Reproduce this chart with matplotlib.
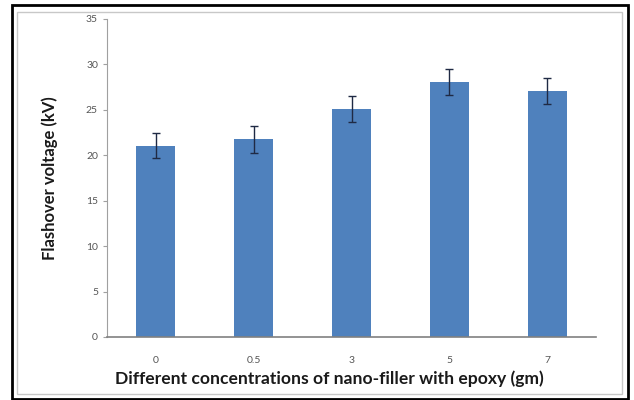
import numpy as np
import matplotlib.pyplot as plt
from matplotlib.patches import Rectangle

conc = ['0', '0.5', '3', '5', '7']
voltage = [21.05, 21.75, 25.1, 28.1, 27.05]
err = [1.4, 1.45, 1.4, 1.45, 1.45]

plt.rcParams['font.family'] = ['Lato', 'DejaVu Sans']

fig = plt.figure(figsize=(6.34, 4.0), dpi=100)
W, H = 634.0, 400.0

# outer black frame and inner grey chart-area frame
fig.patches.append(Rectangle((12 / W, 1 - 399 / H), 616 / W, 394 / H, transform=fig.transFigure,
                             fill=False, edgecolor='black', linewidth=2.0))
fig.patches.append(Rectangle((17 / W, 1 - 394 / H), 605 / W, 382 / H, transform=fig.transFigure,
                             fill=False, edgecolor='#c8c8c8', linewidth=1.0))

ax = fig.add_axes([107 / W, 1 - 337 / H, 489 / W, 318 / H])
x = np.arange(len(conc))
ax.bar(x, voltage, width=0.4, color='#4f81bd', zorder=2)
ax.errorbar(x, voltage, yerr=err, fmt='none', ecolor='#1f2a44', elinewidth=1.0, capsize=3, capthick=1.0, zorder=3)

ax.set_xlim(-0.5, len(conc) - 0.5)
ax.set_ylim(0, 35)
ax.set_yticks(np.arange(0, 36, 5))
ax.set_xticks(x)
ax.set_xticklabels(conc)

for s in ['top', 'right']:
    ax.spines[s].set_visible(False)
ax.spines['left'].set_color('#a0a0a0')
ax.spines['bottom'].set_color('#808080')
ax.spines['bottom'].set_linewidth(1.2)
ax.tick_params(axis='y', colors='#a0a0a0', labelcolor='#555555', labelsize=7.5, length=3, direction='out')
ax.tick_params(axis='x', length=0, labelcolor='#555555', labelsize=7.5, pad=14)

ax.set_ylabel('Flashover voltage (kV)', fontsize=12, fontweight='bold', color='#1a1a1a', labelpad=20)
ax.set_xlabel('Different concentrations of nano-filler with epoxy (gm)', fontsize=12.6, fontweight='bold',
              color='#1a1a1a')
ax.xaxis.set_label_coords(0.455, -0.105)

fig.savefig('out.png', dpi=100)
